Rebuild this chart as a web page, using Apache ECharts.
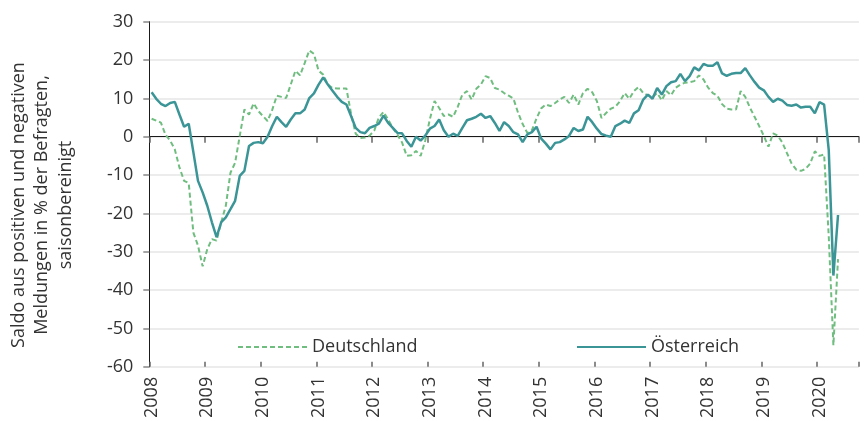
<!DOCTYPE html>
<html>
<head>
<meta charset="utf-8">
<script src="https://cdn.jsdelivr.net/npm/echarts@6/dist/echarts.min.js"></script>
<style>
  html, body { margin: 0; padding: 0; background: #fff; }
  #chart { width: 865px; height: 421px; }
</style>
</head>
<body>
<div id="chart"></div>
<script>
// Years shown on the axis; monthly categories Jan 2008 .. Sep 2020
const years = [2008, 2009, 2010, 2011, 2012, 2013, 2014, 2015, 2016, 2017, 2018, 2019, 2020];
const monthsLastYear = 9;
const yTicks = { min: -60, max: 30, interval: 10 };

// Monthly values from Jan 2008 to May 2020
const deutschland = [
  4.7, 4.2, 3.7, 0.5, -1.0, -3.3, -8.0, -11.5, -12.1, -25.0, -28.4, -33.8,
  -29.3, -26.7, -27.1, -22.3, -18.0, -9.4, -6.8, 0.2, 7.1, 5.8, 8.7, 6.7,
  5.4, 4.1, 7.0, 10.7, 10.4, 10.1, 13.6, 17.2, 16.0, 19.2, 22.5, 21.6,
  17.2, 16.2, 13.6, 12.7, 12.6, 12.6, 12.6, 6.0, 0.8, -0.3, -0.2, 0.3,
  1.6, 5.0, 6.5, 4.5, 2.3, 0.5, -1.5, -5.0, -4.8, -3.7, -5.0, -1.0,
  4.6, 9.3, 7.5, 5.4, 5.8, 5.2, 7.8, 11.0, 11.9, 9.7, 12.5, 13.6,
  15.8, 15.3, 12.7, 12.3, 11.4, 10.7, 10.0, 6.3, 3.3, 1.0, 1.7, 4.8,
  7.4, 8.4, 8.0, 8.8, 9.7, 10.4, 8.8, 11.0, 8.4, 11.4, 12.5, 11.6,
  9.3, 4.9, 6.2, 7.3, 7.8, 9.3, 11.4, 9.9, 11.9, 13.0, 11.4, 10.8,
  10.4, 11.4, 9.5, 11.9, 10.8, 12.8, 13.6, 14.1, 14.2, 14.5, 16.0, 14.9,
  12.8, 11.4, 10.7, 8.5, 7.3, 7.1, 7.1, 11.9, 10.4, 7.6, 5.2, 2.8,
  0.2, -2.6, 0.9, 0.3, -1.5, -4.3, -7.0, -8.6, -8.9, -8.4, -7.0, -3.8,
  -5.0, -4.6, -26.0, -54.4, -31.9
];
const oesterreich = [
  11.6, 9.9, 8.6, 8.0, 8.8, 9.1, 5.8, 2.6, 3.4, -4.0, -11.5, -14.5,
  -18.0, -22.3, -26.2, -22.3, -21.0, -18.9, -16.7, -10.2, -8.9, -2.4, -1.6, -1.4,
  -1.7, 0.0, 2.8, 5.2, 3.8, 2.6, 4.5, 6.1, 6.1, 7.1, 10.1, 11.3,
  13.6, 15.5, 13.6, 12.0, 10.4, 9.1, 8.4, 5.4, 2.3, 1.2, 0.9, 2.3,
  2.8, 3.4, 5.5, 3.6, 2.3, 1.0, 0.9, -1.1, -2.6, 0.0, -1.0, 0.3,
  2.1, 2.8, 4.5, 1.7, 0.0, 0.8, 0.2, 2.3, 4.3, 4.7, 5.2, 6.0,
  4.9, 5.4, 3.6, 1.5, 3.8, 2.8, 1.2, 0.6, -1.4, 0.6, 1.2, 2.6,
  -0.5, -1.8, -3.3, -1.6, -1.4, -0.7, 0.2, 2.3, 1.5, 1.9, 5.2, 3.8,
  2.1, 0.7, 0.3, 0.0, 2.8, 3.4, 4.2, 3.6, 6.1, 6.9, 9.7, 11.0,
  9.9, 12.7, 11.0, 13.2, 14.2, 14.5, 16.4, 14.5, 15.8, 18.1, 17.3, 19.0,
  18.5, 18.5, 19.4, 16.5, 15.9, 16.4, 16.6, 16.6, 17.9, 16.0, 14.3, 12.8,
  12.1, 10.4, 9.1, 9.9, 9.4, 8.3, 8.1, 8.4, 7.6, 7.8, 7.8, 6.1,
  9.0, 8.4, -3.5, -36.2, -20.4
];

const categories = [];
years.forEach(function (y, yi) {
  const n = (yi === years.length - 1) ? monthsLastYear : 12;
  for (let m = 1; m <= n; m++) categories.push(y + '-' + (m < 10 ? '0' + m : m));
});

const FONT = 'Open Sans';
const TXT = '#333333';
const isJan = function (idx) { return idx % 12 === 0; };

const chart = echarts.init(document.getElementById('chart'), null, { renderer: 'canvas' });
chart.setOption({
  animation: false,
  backgroundColor: '#ffffff',
  grid: { left: 149.3, right: 6.1, top: 21.7, bottom: 52, containLabel: false },
  xAxis: [
    {
      type: 'category', data: categories, boundaryGap: true, position: 'bottom',
      axisLine: { show: false, onZero: false },
      axisTick: { show: false },
      splitLine: { show: false },
      axisLabel: {
        interval: isJan, rotate: 90, margin: 10,
        fontFamily: FONT, fontSize: 18, color: TXT,
        formatter: function (v) { return v.slice(0, 4); }
      }
    },
    {
      type: 'category', data: categories, boundaryGap: true, position: 'bottom',
      axisLine: { show: true, onZero: true, lineStyle: { color: '#1a1a1a', width: 1 } },
      axisTick: { show: true, interval: isJan, length: 6, inside: false, lineStyle: { color: '#666', width: 1.5 } },
      axisLabel: { show: false },
      splitLine: { show: false }
    },
    {
      type: 'category', data: categories, boundaryGap: true, position: 'bottom',
      axisLine: { show: false, onZero: true },
      axisTick: { show: true, interval: isJan, length: 5, inside: true, lineStyle: { color: '#666', width: 1.5 } },
      axisLabel: { show: false },
      splitLine: { show: false }
    }
  ],
  yAxis: {
    type: 'value', min: yTicks.min, max: yTicks.max, interval: yTicks.interval,
    axisLine: { show: true, lineStyle: { color: '#1a1a1a', width: 1 } },
    axisTick: { show: true, length: 6, lineStyle: { color: '#888', width: 1.5 } },
    axisLabel: { margin: 16, fontFamily: FONT, fontSize: 18, color: TXT },
    splitLine: { show: true, lineStyle: { color: '#ececec', width: 2 } }
  },
  legend: [
    {
      data: ['Deutschland'], left: 232, top: 333, itemWidth: 69, itemHeight: 16,
      itemStyle: { opacity: 0 },
      textStyle: { fontFamily: FONT, fontSize: 18, color: TXT }
    },
    {
      data: ['Österreich'], left: 571, top: 333, itemWidth: 69, itemHeight: 16,
      itemStyle: { opacity: 0 },
      textStyle: { fontFamily: FONT, fontSize: 18, color: TXT }
    }
  ],
  graphic: [
    {
      type: 'text', x: 42, y: 205, rotation: Math.PI / 2,
      style: {
        text: 'Saldo aus positiven und negativen\nMeldungen in % der Befragten,\nsaisonbereinigt',
        fontFamily: FONT, fontSize: 18, fill: TXT, lineHeight: 23.5,
        align: 'center', verticalAlign: 'middle'
      }
    }
  ],
  series: [
    {
      name: 'Deutschland', type: 'line', xAxisIndex: 0, data: deutschland,
      symbol: 'none', z: 2,
      lineStyle: { color: '#70bd80', width: 2, type: [5, 3] },
      itemStyle: { color: '#70bd80' }
    },
    {
      name: 'Österreich', type: 'line', xAxisIndex: 0, data: oesterreich,
      symbol: 'none', z: 3,
      lineStyle: { color: '#3b9597', width: 2.5 },
      itemStyle: { color: '#3b9597' }
    }
  ]
});
</script>
</body>
</html>
